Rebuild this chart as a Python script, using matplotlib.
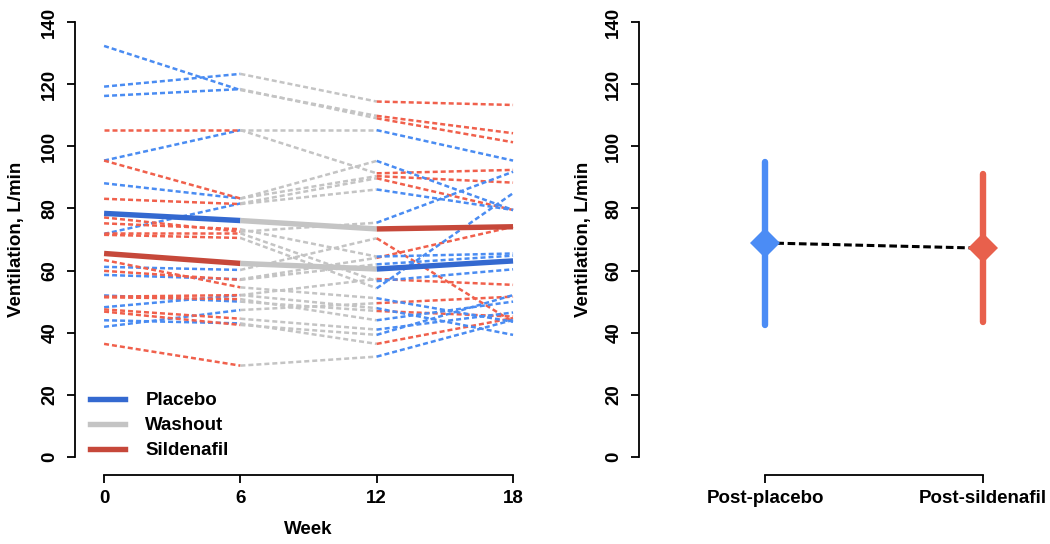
import matplotlib
matplotlib.use("Agg")
import matplotlib.pyplot as plt
from matplotlib.lines import Line2D

plt.rcParams['font.family'] = ['Liberation Sans', 'DejaVu Sans']
plt.rcParams['font.size'] = 13.5

# ---------------- data ----------------
weeks = [0, 6, 12, 18]
week_labels = ['0', '6', '12', '18']

# Group 1: placebo (0-6), washout (6-12), sildenafil (12-18)
g1_w0 = [132.3, 119.2, 116.2, 95.4, 88.1, 71.8, 61.2, 58.6, 48.2, 41.9, 52.0, 44.0]
g1_w6 = [118.1, 123.3, 118.4, 105.2, 83.2, 81.6, 60.2, 57.2, 52.1, 47.3, 50.0, 43.0]
g1_w12 = [109.8, 114.4, 109.0, 91.3, 90.4, 89.7, 70.4, 64.1, 57.3, 49.5, 47.0, 36.4]
g1_w18 = [104.2, 113.3, 101.3, 92.4, 88.3, 79.5, 43.5, 74.1, 55.4, 51.6, 45.2, 44.7]

# Group 2: sildenafil (0-6), washout (6-12), placebo (12-18)
g2_w0 = [105.2, 95.4, 83.1, 77.1, 75.2, 72.0, 71.5, 63.4, 59.9, 51.6, 51.4, 46.8, 47.5, 36.4]
g2_w6 = [105.2, 83.2, 81.4, 72.5, 73.3, 72.0, 70.5, 54.6, 57.0, 52.1, 50.8, 42.5, 44.5, 29.4]
g2_w12 = [105.2, 95.3, 86.1, 75.4, 64.5, 56.6, 54.3, 51.1, 62.0, 47.9, 44.0, 39.3, 41.0, 32.3]
g2_w18 = [95.4, 79.5, 79.5, 91.8, 65.5, 60.4, 84.9, 43.5, 64.8, 39.3, 50.0, 52.1, 46.5, 44.1]

g1_mean = [78.4, 76.1, 73.4, 74.1]
g2_mean = [65.5, 62.3, 60.5, 63.1]

conditions = ['Post-placebo', 'Post-sildenafil']
cond_center = [68.9, 67.2]
cond_low = [42.6, 43.5]
cond_high = [95.1, 91.2]

# ---------------- styles ----------------
c_blue_thin = '#4a8cf2'
c_red_thin = '#f0604c'
c_grey = '#c4c4c4'
c_blue_thick = '#3469d0'
c_red_thick = '#c6483a'
c_blue_pt = '#4b8cf5'
c_red_pt = '#e8604c'
thin_kw = dict(lw=1.8, linestyle=(0, (2.0, 1.2)), solid_capstyle='butt')
thick_lw = 3.9

W, H = 1050, 544
fig = plt.figure(figsize=(W / 100, H / 100), dpi=100)

YLIM = (-5.8, 141.0)
ylab_y = (70 - YLIM[0]) / (YLIM[1] - YLIM[0])

# ---------------- left panel ----------------
ax = fig.add_axes([75 / W, (H - 475) / H, 454.4 / W, 456.1 / H])
ax.set_xlim(-1.28, 18.72)
ax.set_ylim(*YLIM)

seg_colors_g1 = [c_blue_thin, c_grey, c_red_thin]
seg_colors_g2 = [c_red_thin, c_grey, c_blue_thin]
for vals in zip(g1_w0, g1_w6, g1_w12, g1_w18):
    for k in range(3):
        ax.plot(weeks[k:k + 2], vals[k:k + 2], color=seg_colors_g1[k], **thin_kw)
for vals in zip(g2_w0, g2_w6, g2_w12, g2_w18):
    for k in range(3):
        ax.plot(weeks[k:k + 2], vals[k:k + 2], color=seg_colors_g2[k], **thin_kw)

thick_g1 = [c_blue_thick, c_grey, c_red_thick]
thick_g2 = [c_red_thick, c_grey, c_blue_thick]
for k in range(3):
    ax.plot(weeks[k:k + 2], g1_mean[k:k + 2], color=thick_g1[k], lw=thick_lw, solid_capstyle='butt')
    ax.plot(weeks[k:k + 2], g2_mean[k:k + 2], color=thick_g2[k], lw=thick_lw, solid_capstyle='butt')

for s in ['top', 'right']:
    ax.spines[s].set_visible(False)
ax.spines['left'].set_bounds(0, 140)
ax.spines['bottom'].set_bounds(0, 18)
for s in ['left', 'bottom']:
    ax.spines[s].set_linewidth(1.3)
ax.set_yticks(range(0, 141, 20))
ax.set_yticklabels([str(v) for v in range(0, 141, 20)], rotation=90, va='center',
                   fontweight='bold')
ax.set_xticks(weeks)
ax.set_xticklabels(week_labels, fontweight='bold')
ax.tick_params(axis='both', length=6, width=1.3, labelsize=13.5)
ax.tick_params(axis='y', pad=6)
ax.tick_params(axis='x', pad=5)
ax.set_xlabel('Week', fontweight='bold')
ax.xaxis.set_label_coords((9 + 1.28) / 20.0, -0.10)
ax.set_ylabel('Ventilation, L/min', fontweight='bold')
ax.yaxis.set_label_coords((25 - 75) / 454.4, ylab_y)

handles = [Line2D([], [], color=c_blue_thick, lw=thick_lw),
           Line2D([], [], color=c_grey, lw=thick_lw),
           Line2D([], [], color=c_red_thick, lw=thick_lw)]
ax.legend(handles, ['Placebo', 'Washout', 'Sildenafil'], loc='center left',
          bbox_to_anchor=(0.033, 0.108), frameon=False, borderpad=0, borderaxespad=0,
          handlelength=1.85, handletextpad=1.1, labelspacing=0.42,
          prop={'weight': 'bold', 'size': 13.5})

# ---------------- right panel ----------------
ax2 = fig.add_axes([639 / W, (H - 475) / H, 409.4 / W, 456.1 / H])
ax2.set_xlim(0.422, 2.3)
ax2.set_ylim(*YLIM)
xpos = [1, 2]
pt_colors = [c_blue_pt, c_red_pt]
for x, c, lo, hi in zip(xpos, pt_colors, cond_low, cond_high):
    ax2.plot([x, x], [lo, hi], color=c, lw=4.6, solid_capstyle='round', zorder=2)
ax2.plot(xpos, cond_center, color='black', lw=2.2, linestyle=(0, (2.5, 1.2)), zorder=3)
for x, c, m in zip(xpos, pt_colors, cond_center):
    ax2.plot([x], [m], marker='D', markersize=15.5, color=c, markeredgewidth=0, zorder=4)

for s in ['top', 'right']:
    ax2.spines[s].set_visible(False)
ax2.spines['left'].set_bounds(0, 140)
ax2.spines['bottom'].set_bounds(1, 2)
for s in ['left', 'bottom']:
    ax2.spines[s].set_linewidth(1.3)
ax2.set_yticks(range(0, 141, 20))
ax2.set_yticklabels([str(v) for v in range(0, 141, 20)], rotation=90, va='center',
                    fontweight='bold')
ax2.set_xticks(xpos)
ax2.set_xticklabels(conditions, fontweight='bold')
ax2.tick_params(axis='both', length=6, width=1.3, labelsize=13.5)
ax2.tick_params(axis='y', pad=6)
ax2.tick_params(axis='x', pad=5)
ax2.set_ylabel('Ventilation, L/min', fontweight='bold')
ax2.yaxis.set_label_coords((592 - 639) / 409.4, ylab_y)

fig.savefig('out.png', dpi=100)
